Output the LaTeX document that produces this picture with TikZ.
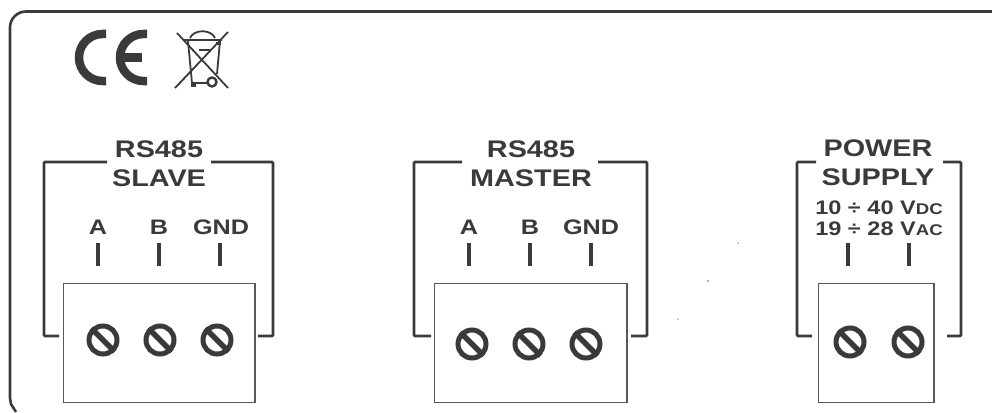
\documentclass[tikz,border=0pt]{standalone}
\usepackage{fontspec}
\newfontfamily\panelfont[FakeStretch=1.2]{Liberation Sans}
\usepackage{xcolor}
\definecolor{inkdark}{HTML}{3A3A3A}
\newcommand{\titlesize}{\fontsize{24}{29}\selectfont}
\newcommand{\pinsize}{\fontsize{21}{21}\selectfont}
\newcommand{\ratingsize}{\fontsize{19.6}{21}\selectfont}
\newcommand{\unitsize}{\fontsize{15.5}{21}\selectfont}

\begin{document}
\begin{tikzpicture}[
                x=1pt, y=-1pt,
                panel/.style={draw=inkdark, line width=2.6pt},
                bracket/.style={draw=inkdark, line width=2.6pt, rounded corners=1pt},
                termbox/.style={draw=black!65, line width=1.6pt, outer sep=0pt, anchor=north west},
                tick/.style={draw=inkdark, line width=4pt},
                screw/.style={draw=inkdark, circle, line width=5pt, minimum size=28pt, inner sep=0pt},
                slot/.style={draw=inkdark, line width=5.5pt},
                title/.style={text=inkdark, font=\panelfont\bfseries\titlesize, align=center, inner sep=0pt},
                pin/.style={text=inkdark, font=\panelfont\bfseries\pinsize, inner sep=0pt},
                rating/.style={text=inkdark, font=\panelfont\bfseries\ratingsize, align=center, inner sep=0pt},
                bin/.style={draw=inkdark, line width=1.8pt}
            ]
                \useasboundingbox (0,0) rectangle (992,412);

                % Panel outline
                \draw[panel] (992,11.5) -- (26,11.5) arc (270:180:16) -- (10,398) -- (11,404) -- (16,412);

                % CE mark
                \draw[draw=inkdark, line width=8.5pt] (106,34) -- (102.5,34) arc (270:90:23.5) -- (106,81);
                \draw[draw=inkdark, line width=8.5pt] (147,34) -- (143.5,34) arc (270:90:23.5) -- (147,81);
                \draw[draw=inkdark, line width=8pt] (120,57.5) -- (142,57.5);

                % Crossed bin
                \draw[bin] (177,33) -- (228,88);
                \draw[bin] (228,32) -- (175,88);
                \draw[bin] (188,41) -- (192,83) -- (208,83);
                \draw[bin] (220,41) -- (217,74);
                \draw[bin, line width=2.6pt] (183,40) -- (222,40);
                \draw[bin] (190,38) .. controls (194,29) and (211,29) .. (215,38);
                \draw[bin, line width=2.6pt] (199,50) -- (210,50);
                \draw[bin, line width=2.4pt] (212,82) circle (4.5);
                \draw[bin, line width=3pt] (191,85) -- (196,85);
                \draw[bin, line width=3pt] (216,44) -- (221,44);

                % Slave group
                \node[title] (slavetitle) at (159,164) {RS485\\SLAVE};
                \draw[bracket] (107,162) -- (44,162) -- (44,336) -- (59,336);
                \draw[bracket] (211,162) -- (273,162) -- (273,336) -- (258,336);
                \node[termbox, minimum width=191.5pt, minimum height=119pt] (slavebox) at (63.5,283.5) {};
                \node[pin] (slavea) at (98,227) {A};
                \node[pin] (slaveb) at (159,227) {B};
                \node[pin] (slaveg) at (221,227) {GND};
                \foreach \tx in {98,159,220}
                    \draw[tick] (\tx,243) -- (\tx,266);
                \foreach \sx/\sname in {103/slaveone,160/slavetwo,217/slavethree} {
                    \node[screw] (\sname) at (\sx,340) {};
                    \draw[slot] (\sname.north west) -- (\sname.south east);
                }

                % Master group
                \node[title] (mastertitle) at (531,164) {RS485\\MASTER};
                \draw[bracket] (462,162) -- (414,162) -- (414,336) -- (431,336);
                \draw[bracket] (598,162) -- (647,162) -- (647,336) -- (631,336);
                \node[termbox, minimum width=192.5pt, minimum height=119pt] (masterbox) at (434.5,283.5) {};
                \node[pin] (mastera) at (469,227) {A};
                \node[pin] (masterb) at (530,227) {B};
                \node[pin] (masterg) at (591,227) {GND};
                \foreach \tx in {469,530,591}
                    \draw[tick] (\tx,243) -- (\tx,266);
                \foreach \sx/\sname in {472/masterone,529/mastertwo,586/masterthree} {
                    \node[screw] (\sname) at (\sx,344) {};
                    \draw[slot] (\sname.north west) -- (\sname.south east);
                }

                % Power group
                \node[title] (powertitle) at (878,163) {POWER\\SUPPLY};
                \node[rating] (powerrating) at (879,218) {10 ÷ 40 V{\unitsize DC}\\19 ÷ 28 V{\unitsize AC}};
                \draw[bracket] (816,162) -- (797,162) -- (797,336) -- (812,336);
                \draw[bracket] (943,162) -- (961,162) -- (961,336) -- (947,336);
                \node[termbox, minimum width=115.5pt, minimum height=119pt] (powerbox) at (818.5,283.5) {};
                \foreach \tx in {848,909}
                    \draw[tick] (\tx,243) -- (\tx,266);
                \foreach \sx/\sname in {850/powerone,908/powertwo} {
                    \node[screw] (\sname) at (\sx,342) {};
                    \draw[slot] (\sname.north west) -- (\sname.south east);
                }

                % Specks
                \fill[black!40] (738,243) circle (0.8);
                \fill[black!60] (708,281) circle (0.8);
                \fill[black!40] (678,319) circle (0.8);
            \end{tikzpicture}
\end{document}
